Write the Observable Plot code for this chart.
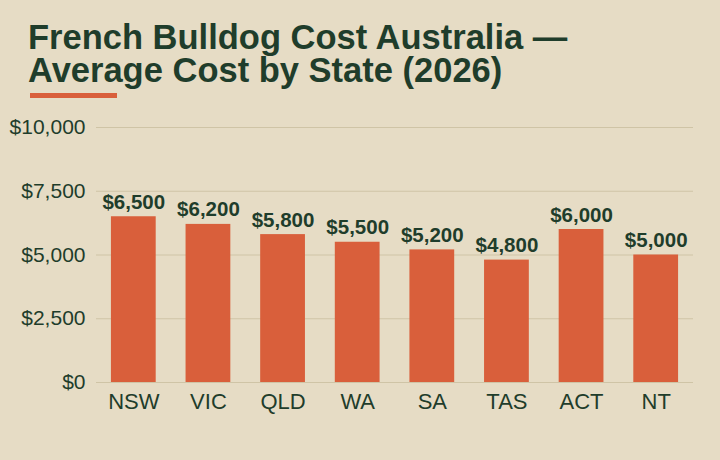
<!DOCTYPE html>
<html>
<head>
<meta charset="utf-8">
<script src="https://cdn.jsdelivr.net/npm/d3@7"></script>
<script src="https://cdn.jsdelivr.net/npm/@observablehq/plot@0.6"></script>
<style>
  html, body { margin: 0; padding: 0; }
  body { width: 720px; height: 460px; background: #e6dcc5; position: relative; overflow: hidden; font-family: "Liberation Sans", Arial, sans-serif; }
  #title { position: absolute; left: 28px; top: 21px; font-size: 34.5px; line-height: 33px; font-weight: bold; color: #1f3d2b; margin: 0; white-space: nowrap; }
  #rule { position: absolute; left: 30px; top: 93px; width: 87px; height: 5px; background: #d95f3b; }
  #chart { position: absolute; left: 0; top: 105px; }
</style>
</head>
<body>
<div id="title">French Bulldog Cost Australia —<br>Average Cost by State (2026)</div>
<div id="rule"></div>
<div id="chart"></div>
<script>
const states = ["NSW", "VIC", "QLD", "WA", "SA", "TAS", "ACT", "NT"];
const costs = [6500, 6200, 5800, 5500, 5200, 4800, 6000, 5000];
const yTicks = [0, 2500, 5000, 7500, 10000];

const data = states.map((s, i) => ({state: s, cost: costs[i]}));
const fmt = v => "$" + d3.format(",")(v);

const chart = Plot.plot({
  width: 720,
  height: 355,
  marginTop: 22,
  marginBottom: 78,
  marginLeft: 96,
  marginRight: 27,
  style: {background: "transparent", fontFamily: "Liberation Sans, Arial, sans-serif", color: "#1f3d2b"},
  x: {domain: states, paddingInner: 0.4, paddingOuter: 0.2, round: false, label: null},
  y: {domain: [0, 10000], label: null},
  marks: [
    Plot.gridY(yTicks, {stroke: "#cfc4a6", strokeOpacity: 1, strokeWidth: 1}),
    Plot.barY(data, {x: "state", y: "cost", fill: "#d95f3b"}),
    Plot.text(data, {x: "state", y: "cost", text: d => fmt(d.cost), dy: -8, lineAnchor: "bottom", fontSize: 20.5, fontWeight: "bold", fill: "#1f3d2b"}),
    Plot.axisY(yTicks, {tickSize: 0, tickPadding: 11, tickFormat: fmt, fontSize: 21, fill: "#1f3d2b", label: null}),
    Plot.axisX({tickSize: 0, tickPadding: 11, fontSize: 22, fill: "#1f3d2b", label: null})
  ]
});
document.getElementById("chart").appendChild(chart);
</script>
</body>
</html>
